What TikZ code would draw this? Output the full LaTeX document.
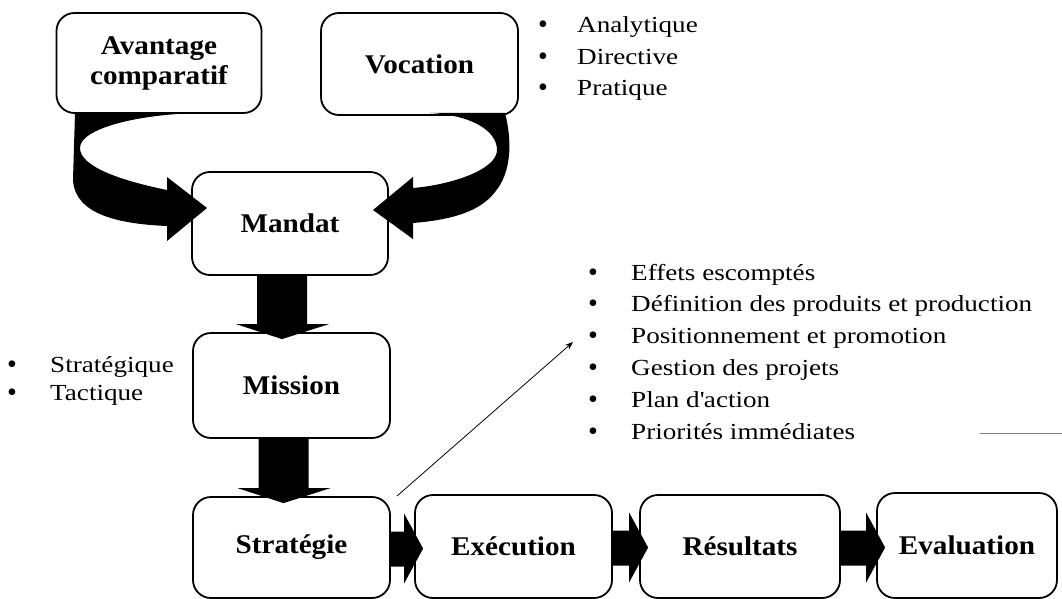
\documentclass[tikz,border=0pt]{standalone}
\usepackage{fontspec}
\setmainfont{Liberation Serif}
\newfontfamily\regf{Liberation Serif}[FakeStretch=1.18]
\newfontfamily\boldf{Liberation Serif}[FakeStretch=1.08]
\usetikzlibrary{arrows.meta,calc}
\newcommand\vblockarrow[2]{\fill let \p1=(#1.south), \p2=(#2.north) in
  (\x1-33pt,\y1) -- (\x1+17pt,\y1) -- (\x1+17pt,\y2+8pt) -- (\x1+39pt,\y2+8pt)
  -- (\x1-8pt,\y2-7pt) -- (\x1-54pt,\y2+8pt) -- (\x1-33pt,\y2+8pt) -- cycle;}
\newcommand\hblockarrow[2]{\fill let \p1=(#1.east), \p2=(#2.west) in
  (\x1,\y1+16pt) -- (\x2-10pt,\y1+16pt) -- (\x2-10pt,\y1+34pt) -- (\x2+9pt,\y1-1pt)
  -- (\x2-10pt,\y1-36pt) -- (\x2-10pt,\y1-19pt) -- (\x1,\y1-19pt) -- cycle;}
\begin{document}
\begin{tikzpicture}[x=1pt,y=-1pt,
  box/.style={draw, line width=1.8pt, rounded corners=18pt, inner sep=0pt, align=center,
    font=\boldf\bfseries\fontsize{27}{30}\selectfont},
  item/.style={anchor=base west, inner sep=0pt, font=\regf\fontsize{23}{28}\selectfont},
  bul/.style={anchor=base, inner sep=0pt, font=\fontsize{28}{28}\selectfont},
  thinarrow/.style={line width=0.8pt, -{Stealth[length=8pt,width=6pt]}}]
\useasboundingbox (0,0) rectangle (1062,599);

% boxes
\node[box, minimum width=205pt, minimum height=100pt] (av) at (159,63) {Avantage\\comparatif};
\node[box, minimum width=197pt, minimum height=102pt] (voc) at (419.5,64) {Vocation};
\node[box, minimum width=196pt, minimum height=103pt] (mandat) at (290,223.5) {Mandat};
\node[box, minimum width=197pt, minimum height=105pt] (mission) at (291.5,385.5) {Mission};
\node[box, minimum width=197pt, minimum height=101pt] (strat) at (291.5,547.5) {Stratégie};
\node[box, minimum width=197pt, minimum height=103pt] (exec) at (513.5,546.5) {Exécution};
\node[box, minimum width=200pt, minimum height=103pt] (res) at (740,546.5) {Résultats};
\node[box, minimum width=180pt, minimum height=105pt] (eval) at (967,545.5) {Evaluation};

% curved block arrows into Mandat
\fill (75,113) -- (73,180) .. controls (75,215) and (120,224) .. (167,226) -- (167,241)
  -- (207,208) -- (167,177) -- (167,190) .. controls (118,180) and (80,166) .. (80,148)
  .. controls (80,128) and (140,114) .. (200,113) -- cycle;
\fill (505,113) .. controls (512,140) and (512,172) .. (495,192) .. controls (480,212) and (450,220) .. (413,223)
  -- (413,239) -- (373,210) -- (413,177) -- (413,188) .. controls (450,185) and (497,170) .. (497,150)
  .. controls (497,130) and (470,115) .. (430,113) -- cycle;

% straight block arrows
\vblockarrow{mandat}{mission}
\vblockarrow{mission}{strat}
\hblockarrow{strat}{exec}
\hblockarrow{exec}{res}
\hblockarrow{res}{eval}

% thin arrow to the list
\coordinate (listtip) at (573,342);
\draw[thinarrow] ($(strat.north east)+(6,0)$) -- (listtip);

% lists
\foreach \t [count=\i from 0] in {Analytique, Directive, Pratique} {
  \node[bul] (tb\i) at (543,34+31.5*\i) {•};
  \node[item] (tt\i) at (577,33+31.5*\i) {\t};
}
\foreach \t [count=\i from 0] in {Stratégique, Tactique} {
  \node[bul] (lb\i) at (12,373+28*\i) {•};
  \node[item] (lt\i) at (50,372+28*\i) {\t};
}
\foreach \t [count=\i from 0] in {Effets escomptés, Définition des produits et production,
  Positionnement et promotion, Gestion des projets, Plan d\textquotesingle action, Priorités immédiates} {
  \node[bul] (rb\i) at (593,281+31.8*\i) {•};
  \node[item] (rt\i) at (631,280+31.8*\i) {\t};
}

% stray rule at the right
\draw[gray, line width=0.8pt] (980,433) -- (1062,433);
\end{tikzpicture}
\end{document}
